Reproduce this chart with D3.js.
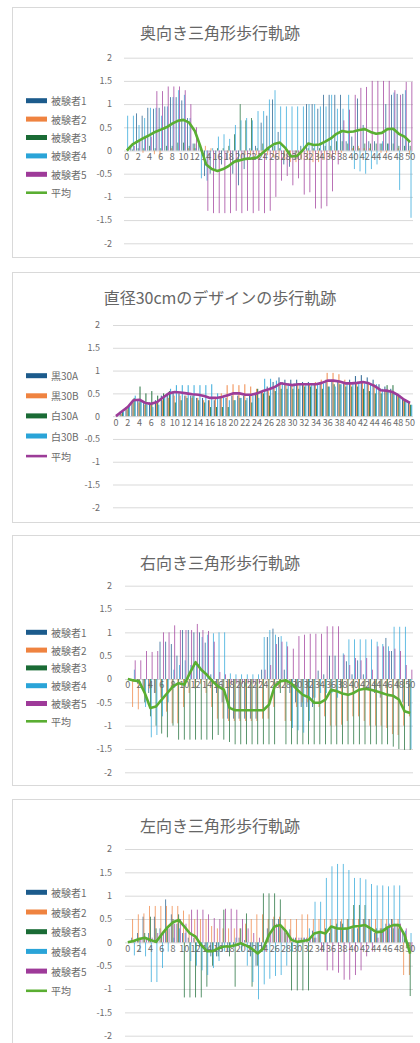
<!DOCTYPE html>
<html><head><meta charset="utf-8">
<script src="https://cdn.jsdelivr.net/npm/d3@7"></script>
<style>
body{margin:0;background:#fff}
svg{display:block}
text{font-family:"Noto Sans CJK JP","Noto Sans",sans-serif}
</style>
</head><body>
<svg id="chart" width="420" height="1043"></svg>
<script>
// ---------- DATA ----------
const categories = [0,1,2,3,4,5,6,7,8,9,10,11,12,13,14,15,16,17,18,19,20,21,22,23,24,25,26,27,28,29,30,31,32,33,34,35,36,37,38,39,40,41,42,43,44,45,46,47,48,49,50];
const xTickLabels = [0,2,4,6,8,10,12,14,16,18,20,22,24,26,28,30,32,34,36,38,40,42,44,46,48,50];
const yTicks = [-2,-1.5,-1,-0.5,0,0.5,1,1.5,2];
const subjectNames = ["被験者1","被験者2","被験者3","被験者4","被験者5"];
const designNames = ["黒30A","黒30B","白30A","白30B"];
const avgName = "平均";
const titles = ["奥向き三角形歩行軌跡","直径30cmのデザインの歩行軌跡","右向き三角形歩行軌跡","左向き三角形歩行軌跡"];

// chart 1: 奥向き
const back1 = [0,0.1,0.8,0.75,0.92,0.9,0.92,0.95,1.15,1.15,1.08,0.7,0.15,0.15,-0.55,-0.5,-0.4,-0.3,-0.2,-0.5,-0.75,-0.4,0.05,0.1,0.6,0.75,1.1,0.4,-0.3,-0.35,-0.2,0.1,1.0,1.0,0.9,1.2,1.2,1.2,1.2,0.2,0.3,1.12,0.55,0.2,0.2,0.15,1.0,1.2,1.22,1.22,0.2];
const back2 = [0,0,0,-0.05,0,-0.08,-0.12,0,0.05,0,0,0.05,0.05,0,0.1,0.05,0,0,-0.05,0,0,-0.1,-0.1,-0.1,-0.05,-0.1,-0.15,-0.2,-0.2,-0.25,-0.25,-0.2,-0.2,-0.25,-0.25,-0.2,-0.15,-0.1,-0.05,0,0.05,0.1,0.05,0.05,0,-0.05,-0.05,0,0.05,0,-0.1];
const back3 = [0,0.02,0.05,0.05,0.1,0.05,0.05,0.1,0.1,0.17,0.17,0.1,0.15,0.05,0,0,0.05,0.05,0.1,0.35,1.0,0.65,0.7,0.05,0.15,0.05,0.1,0.05,0,0,-0.05,0,0.05,0.05,0.05,0.1,0.1,0.2,0.2,0.15,0.1,0.05,0.15,0.15,0.15,0.15,0.15,0.15,0.1,0.1,0.1];
const back4 = [0.75,0.75,0.55,0.7,0.92,0.92,0.75,0.95,1.15,1.3,1.2,0.7,0.05,-0.6,-0.65,0.05,0.3,0.35,0.25,0.55,0.65,0.7,0.65,0.85,0.85,1.1,1.3,0.95,0.95,0.95,0.95,0.95,1.0,1.0,0.95,0.95,1.2,0.9,0.9,1.2,-0.4,-0.45,-0.5,-0.4,-0.3,0.2,0.15,1.25,-0.85,1.3,-1.45];
const back5 = [0,0.1,0.2,0.3,0.3,1.28,1.28,1.38,1.38,1.38,1.3,1.0,0.5,0,-1.3,-1.35,-1.35,-1.35,-1.35,-1.3,-1.35,-1.3,-1.35,-1.3,-1.35,-1.3,-1.0,-0.65,-0.55,-0.75,-0.6,-0.95,-0.9,-1.25,-1.25,-1.2,-0.88,-0.3,0.65,0.88,1.2,1.35,1.37,1.5,1.5,1.5,1.5,1.3,1.2,1.48,1.48];
const backAvg = [0,0.13,0.2,0.27,0.33,0.4,0.45,0.5,0.58,0.64,0.66,0.6,0.42,0.08,-0.3,-0.4,-0.44,-0.4,-0.33,-0.24,-0.21,-0.18,-0.17,-0.15,-0.05,0.06,0.14,0.17,0.05,-0.13,-0.12,0,0.15,0.12,0.13,0.19,0.26,0.36,0.42,0.4,0.41,0.44,0.46,0.4,0.36,0.38,0.46,0.47,0.36,0.3,0.18];

// chart 2: 直径30cm
const black30A = [0,0.1,0.2,0.3,0.35,0.3,0.3,0.35,0.45,0.5,0.55,0.5,0.45,0.45,0.4,0.4,0.35,0.35,0.4,0.4,0.45,0.45,0.45,0.45,0.5,0.55,0.65,0.75,0.85,0.8,0.8,0.8,0.75,0.75,0.7,0.75,0.8,0.8,0.75,0.75,0.8,0.88,0.9,0.85,0.8,0.7,0.65,0.6,0.5,0.4,0.3];
const black30B = [0,0.05,0.15,0.3,0.3,0.25,0.25,0.3,0.35,0.4,0.45,0.45,0.45,0.4,0.4,0.35,0.35,0.4,0.5,0.68,0.7,0.68,0.7,0.65,0.6,0.55,0.55,0.6,0.7,0.7,0.7,0.72,0.72,0.72,0.75,0.8,0.95,0.95,0.92,0.8,0.7,0.72,0.75,0.75,0.7,0.6,0.55,0.5,0.45,0.35,0.3];
const white30A = [0,0.1,0.2,0.4,0.65,0.5,0.55,0.45,0.5,0.55,0.3,0.35,0.4,0.45,0.35,0.3,0.2,0.2,0.2,0.2,0.35,0.4,0.35,0.3,0.6,0.5,0.45,0.55,0.6,0.6,0.6,0.6,0.65,0.65,0.6,0.6,0.65,0.7,0.7,0.65,0.65,0.65,0.6,0.55,0.5,0.5,0.68,0.68,0.45,0.35,0.25];
const white30B = [0,0.1,0.25,0.45,0.35,0.25,0.2,0.25,0.45,0.6,0.68,0.68,0.68,0.68,0.68,0.68,0.7,0.5,0.4,0.35,0.35,0.4,0.4,0.45,0.4,0.82,0.82,0.78,0.75,0.72,0.72,0.7,0.7,0.7,0.72,0.72,0.65,0.65,0.7,0.72,0.72,0.72,0.72,0.72,0.7,0.6,0.55,0.5,0.45,0.35,0.25];
const designAvg = [0,0.1,0.2,0.35,0.36,0.29,0.27,0.31,0.41,0.5,0.53,0.52,0.5,0.48,0.47,0.44,0.4,0.4,0.42,0.46,0.5,0.5,0.47,0.47,0.5,0.55,0.59,0.64,0.72,0.7,0.68,0.7,0.7,0.7,0.7,0.73,0.78,0.78,0.76,0.72,0.72,0.73,0.75,0.72,0.66,0.57,0.56,0.53,0.46,0.36,0.29];

// chart 3: 右向き
const right1 = [0,0,-0.1,-0.2,-0.3,-0.3,0.8,0.8,0.75,0.5,1.05,1.05,1.0,1.0,0.78,0.1,-0.3,-0.5,-0.85,-0.85,-0.85,-0.85,-0.85,-0.85,0.2,0.9,1.08,0.9,0.2,-0.3,-0.5,-0.6,-0.6,-0.6,0.18,0.1,0.5,0.5,-0.2,0.38,0.1,0.4,0.1,-0.2,-0.3,-0.4,0.88,0.6,-0.2,-0.5,-0.58];
const right2 = [0,-0.6,-0.65,-0.3,-0.2,-0.3,-0.4,-0.7,-0.95,-0.95,-0.6,-0.3,-0.2,-0.1,-0.3,-0.6,-0.85,-0.85,-0.9,-0.9,-0.9,-0.9,-0.9,-0.9,-0.85,-0.85,-0.6,-0.2,-0.9,-0.9,-0.6,-0.5,-0.5,-0.4,-0.6,-0.8,-1.0,-1.0,-0.98,-0.9,-0.8,-0.8,-0.9,-1.0,-1.0,-1.0,-1.05,-1.18,-1.2,-1.0,-0.8];
const right3 = [0,-0.05,-0.1,-0.5,-0.8,-1.0,-1.17,-1.25,-1.0,-1.3,-1.3,-1.3,-1.3,-1.3,-1.3,-1.3,-1.2,-1.3,-1.35,-1.4,-1.4,-1.4,-1.4,-1.4,-1.4,-1.4,-1.4,-0.3,-1.4,-1.4,-1.4,-1.4,-1.4,-1.4,-1.4,-1.4,-1.4,-1.4,-1.4,-1.4,-1.4,-1.4,-1.4,-1.4,-1.4,-1.4,-1.4,-1.45,-1.5,-1.52,-1.52];
const right4 = [0,0.2,0,-0.6,-1.25,-1.2,-0.8,-0.5,0.2,0.3,0.4,0.3,0.35,0.9,0.95,0.98,1.0,1.0,0.12,0.1,0.1,0.1,0.1,0.1,0.9,1.05,0.95,0.92,0.8,-1.05,-1.1,-1.15,-0.9,-0.4,-0.3,-0.3,-0.3,-0.4,0.55,0.85,0.85,0.85,0.85,0.85,0.8,0.75,0.7,1.12,1.12,1.12,-1.5];
const right5 = [0,0.4,0.4,0.6,0.58,0.6,1.0,1.0,1.15,1.05,1.05,1.05,1.18,1.05,1.03,0.8,0.15,0.1,-0.1,-0.1,-0.1,-0.1,-0.1,-0.1,0.2,0.3,0.75,0.8,0.7,0.65,0.92,0.95,0.97,0.97,0.97,1.13,1.13,1.13,0.52,0.3,0.45,0.4,0.45,0.2,0.7,0.7,0.6,0.65,0.6,0.3,0.2];
const rightAvg = [0,-0.03,-0.05,-0.3,-0.62,-0.59,-0.44,-0.3,-0.16,-0.09,-0.12,0.13,0.36,0.2,0.09,-0.05,-0.16,-0.23,-0.62,-0.67,-0.67,-0.67,-0.67,-0.67,-0.67,-0.55,-0.16,-0.05,-0.03,-0.1,-0.23,-0.34,-0.39,-0.51,-0.51,-0.44,-0.23,-0.26,-0.31,-0.34,-0.3,-0.23,-0.21,-0.23,-0.26,-0.3,-0.34,-0.36,-0.44,-0.69,-0.73];

// chart 4: 左向き
const left1 = [0,0.1,0.2,0.55,0.2,0.55,0.3,0.92,0.6,0.4,0.2,0.1,0.1,-0.1,-0.2,-0.3,-0.3,-0.2,-0.2,-0.1,0.1,0.05,-0.3,-0.5,-0.2,0.3,0.5,0.5,0.3,0.28,0.1,0.1,0.1,0.25,0.2,-0.2,0.2,0.3,0.45,0.3,0.3,0.3,0.5,0.5,0.2,0.3,0.4,0.5,0.4,0.2,-0.2];
const left2 = [0,0.5,0.6,0.62,0.78,0.78,0.78,0.78,0.78,0.78,0.68,0.6,0.5,0.5,0.5,0.35,0.3,0.3,0.3,0.3,0.3,0.4,0.5,0.6,0.6,0.5,0.55,0.55,0.5,0.5,0.5,0.6,0.6,0.5,0.5,0.5,0.5,0.5,0.5,0.5,0.5,0.5,0.5,0.5,0.5,0.5,0.5,0.5,0.5,-0.7,-0.7];
const left3 = [0,0.05,0.1,0.2,0.55,0.3,0.2,0.3,0.5,0.6,-1.18,-1.18,-1.18,-1.18,-0.95,-0.5,-0.3,0.7,-0.3,-0.95,0.3,0.62,-0.95,-0.5,1.05,1.05,1.05,0.92,0.2,-1.03,-1.03,-1.03,-1.03,0.1,0.2,0.3,0.3,0.4,0.4,0.5,0.8,0.8,0.8,0.3,0.3,0.3,0.3,0.3,0.3,0.2,-1.15];
const left4 = [0,-0.28,-0.2,-0.3,-0.85,-0.85,-0.55,-0.2,0.1,0.3,0.2,-0.4,-0.5,-0.6,-0.7,-0.55,-0.4,-0.2,-0.1,0.1,-0.2,-0.5,-0.85,-1.22,-0.9,-0.78,-0.72,-0.7,-0.5,-0.2,-0.1,0.1,0.3,0.87,0.87,1.38,1.63,1.68,1.68,1.55,1.38,1.38,1.35,1.25,1.22,1.22,1.2,1.22,1.22,0.25,0.2];
const left5 = [0,0.05,0.1,0.1,0.1,0.2,0.2,0.3,0.4,0.5,0.4,0.7,0.7,0.7,0.6,0.52,0.5,0.72,0.72,0.7,0.5,0.3,0.2,0.1,-0.2,0.2,0.4,0.3,0.2,0.1,0.1,0.1,0.1,0.1,-0.2,-0.6,-0.6,-0.65,-0.8,-0.8,-0.7,-0.6,-0.3,-0.2,0.1,0.3,0.4,0.4,0.4,0.3,-0.2];
const leftAvg = [0,0.03,0.07,0.1,0.05,0.01,0.17,0.32,0.43,0.48,0.34,0.19,0.12,-0.06,-0.19,-0.19,-0.13,-0.09,-0.09,-0.06,-0.02,-0.07,-0.14,-0.24,-0.13,0.16,0.34,0.37,0.24,0.05,0.01,0.03,0.05,0.19,0.22,0.19,0.34,0.3,0.29,0.3,0.34,0.35,0.37,0.3,0.22,0.23,0.32,0.37,0.37,0.16,-0.24];

// ---------- STYLE / LAYOUT ----------
const subjectColors = ["#1c5b8c","#ef8340","#1a6b35","#2aa4d8","#9e3a99"];
const designColors = ["#1c5b8c","#ef8340","#1a6b35","#2aa4d8"];
const grid = "#d9d9d9", txt = "#6b6b6b";

const panels = [
  {title:titles[0], names:subjectNames, series:[back1,back2,back3,back4,back5], avg:backAvg, colors:subjectColors, line:"#5aae32",
   top:7, bottom:257, titleY:32, x0:124, x1:413, yTop:57.7, yBot:243.3, labR:112, legY:100.7, legStep:18.4},
  {title:titles[1], names:designNames, series:[black30A,black30B,white30A,white30B], avg:designAvg, colors:designColors, line:"#9c3c98",
   top:272, bottom:522, titleY:297, x0:113, x1:413, yTop:325, yBot:507.3, labR:100, legY:375.7, legStep:20.1},
  {title:titles[2], names:subjectNames, series:[right1,right2,right3,right4,right5], avg:rightAvg, colors:subjectColors, line:"#5aae32",
   top:535, bottom:785, titleY:562, x0:125, x1:413, yTop:585.7, yBot:772.3, labR:112, legY:632.3, legStep:17.8},
  {title:titles[3], names:subjectNames, series:[left1,left2,left3,left4,left5], avg:leftAvg, colors:subjectColors, line:"#5aae32",
   top:799, bottom:1060, titleY:825, x0:125, x1:413, yTop:849, yBot:1035.7, labR:112, legY:892.3, legStep:19.7}
];

const svg = d3.select("#chart");

panels.forEach(p => {
  const g = svg.append("g");
  g.append("rect").attr("x",12.5).attr("y",p.top+0.5).attr("width",430).attr("height",p.bottom-p.top)
    .attr("fill","#fff").attr("stroke",grid).attr("stroke-width",1);

  g.append("text").attr("x",220).attr("y",p.titleY).attr("text-anchor","middle").attr("dominant-baseline","central")
    .attr("font-size",16).attr("fill","#666").text(p.title);

  const x = d3.scaleBand().domain(categories).range([p.x0,p.x1]).paddingInner(0.25).paddingOuter(0.125);
  const xs = d3.scaleBand().domain(d3.range(p.series.length)).range([0,x.bandwidth()]);
  const y = d3.scaleLinear().domain([-2,2]).range([p.yBot,p.yTop]);

  // gridlines + y labels
  const ya = d3.axisLeft(y).tickValues(yTicks).tickSize(-(p.x1-p.x0)).tickFormat(d=>String(d));
  const yg = g.append("g").attr("transform",`translate(${p.x0},0)`).call(ya);
  yg.select(".domain").remove();
  yg.selectAll("line").attr("stroke",grid);
  yg.selectAll("text").attr("x",-(p.x0-p.labR)).attr("fill",txt).attr("font-size",9);

  // bars
  p.series.forEach((vals,si) => {
    g.append("g").attr("fill-opacity",0.85).selectAll("rect").data(categories).join("rect")
      .attr("x",c=>x(c)+xs(si)).attr("width",xs.bandwidth())
      .attr("y",c=>Math.min(y(vals[c]),y(0)))
      .attr("height",c=>Math.abs(y(vals[c])-y(0)))
      .attr("fill",p.colors[si]);
  });

  // x labels
  const xa = d3.axisBottom(x).tickValues(xTickLabels).tickSize(0).tickPadding(3);
  const xg = g.append("g").attr("transform",`translate(0,${y(0)})`).call(xa);
  xg.select(".domain").remove();
  xg.selectAll("text").attr("fill",txt).attr("font-size",9);

  // average line
  const line = d3.line().x(c=>x(c)+x.bandwidth()/2).y(c=>y(p.avg[c]));
  g.append("path").datum(categories).attr("d",line).attr("fill","none")
    .attr("stroke",p.line).attr("stroke-width",2.6).attr("stroke-linejoin","round");

  // legend
  const names = p.names.concat([avgName]);
  names.forEach((n,k) => {
    const ly = p.legY + k*p.legStep;
    if (k < p.names.length) {
      g.append("rect").attr("x",26).attr("y",ly-2.5).attr("width",21).attr("height",5).attr("fill",p.colors[k]);
    } else {
      g.append("line").attr("x1",26).attr("x2",47).attr("y1",ly).attr("y2",ly).attr("stroke",p.line).attr("stroke-width",2.6);
    }
    g.append("text").attr("x",51).attr("y",ly).attr("dominant-baseline","central")
      .attr("font-size",10).attr("fill",txt).text(n);
  });
});
</script>
</body></html>
